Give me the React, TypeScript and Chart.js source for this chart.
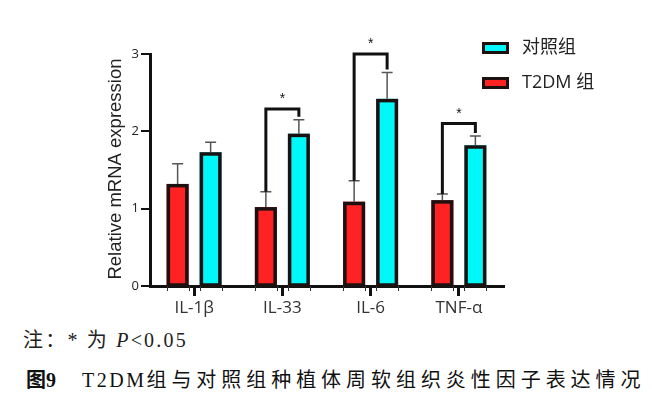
import React, { useEffect, useRef } from "react";
import { Chart, registerables } from "chart.js";

Chart.register(...registerables);

// ---- data ----
const categories = ["IL-1β", "IL-33", "IL-6", "TNF-α"];
const t2dmLabel = "T2DM 组";
const controlLabel = "对照组";
const t2dmValues = [1.32, 1.02, 1.09, 1.11];
const t2dmErrors = [0.26, 0.2, 0.27, 0.08];
const controlValues = [1.73, 1.97, 2.42, 1.82];
const controlErrors = [0.13, 0.18, 0.34, 0.12];
const bracketTops: (number | null)[] = [null, 2.29, 3.0, 2.1];
const yTicks = [0, 1, 2, 3];
const yTitle = "Relative mRNA expression";
const noteText = "注：* 为 ";
const figLabel = "图9";
const figLatin = "T2DM";
const figCjk = "组与对照组种植体周软组织炎性因子表达情况";

const RED = "#ff2222";
const CYAN = "#00f8f8";
const EDGE = "#1c1010";
const SANS = "'Open Sans', 'Noto Sans CJK SC', sans-serif";

const overlayPlugin = {
  id: "overlay",
  afterDatasetsDraw(chart: any) {
    const ctx = chart.ctx;
    const ys = chart.scales.y;
    const m0 = chart.getDatasetMeta(0).data;
    const m1 = chart.getDatasetMeta(1).data;
    const ca = chart.chartArea;
    ctx.save();

    // bar outlines (from the library's bar elements)
    ctx.strokeStyle = EDGE;
    ctx.lineWidth = 3.5;
    ctx.lineJoin = "miter";
    [...m0, ...m1].forEach((el: any) => {
      const l = el.x - el.width / 2;
      const t = el.y;
      const b = el.base;
      ctx.strokeRect(l + 1.75, t + 1.75, el.width - 3.5, b - t - 1.75);
    });

    // error bars
    const drawErr = (els: any[], vals: number[], errs: number[]) => {
      els.forEach((el: any, i: number) => {
        const y1 = ys.getPixelForValue(vals[i]);
        const y2 = ys.getPixelForValue(vals[i] + errs[i]);
        ctx.strokeStyle = "#555";
        ctx.lineWidth = 1.5;
        ctx.beginPath();
        ctx.moveTo(el.x, y1);
        ctx.lineTo(el.x, y2);
        ctx.moveTo(el.x - 5.5, y2);
        ctx.lineTo(el.x + 5.5, y2);
        ctx.stroke();
      });
    };
    drawErr(m0, t2dmValues, t2dmErrors);
    drawErr(m1, controlValues, controlErrors);

    // minor ticks at bar edges
    ctx.strokeStyle = "#333";
    ctx.lineWidth = 1;
    [...m0, ...m1].forEach((el: any) => {
      [el.x - el.width / 2, el.x + el.width / 2].forEach((x) => {
        ctx.beginPath();
        ctx.moveTo(Math.round(x) + 0.5, ca.bottom);
        ctx.lineTo(Math.round(x) + 0.5, ca.bottom + 5);
        ctx.stroke();
      });
    });

    // significance brackets
    bracketTops.forEach((top, i) => {
      if (top === null) return;
      const xl = m0[i].x;
      const xr = m1[i].x;
      const yl = ys.getPixelForValue(t2dmValues[i] + t2dmErrors[i]);
      const yr = ys.getPixelForValue(controlValues[i] + controlErrors[i]) - 3;
      const yt = ys.getPixelForValue(top);
      ctx.strokeStyle = "#111";
      ctx.lineWidth = 3;
      ctx.lineJoin = "miter";
      ctx.beginPath();
      ctx.moveTo(xl, yl);
      ctx.lineTo(xl, yt);
      ctx.lineTo(xr, yt);
      ctx.lineTo(xr, yr);
      ctx.stroke();
      ctx.fillStyle = "#111";
      ctx.font = "14px 'Liberation Sans', Arial, sans-serif";
      ctx.textAlign = "center";
      ctx.textBaseline = "alphabetic";
      ctx.fillText("*", (xl + xr) / 2, yt - 6);
    });

    // y title
    ctx.save();
    ctx.translate(113, (ca.top + ca.bottom) / 2 - 1);
    ctx.rotate(-Math.PI / 2);
    ctx.fillStyle = "#222";
    ctx.font = "18.5px 'Liberation Sans', Arial, sans-serif";
    ctx.textAlign = "center";
    ctx.textBaseline = "alphabetic";
    ctx.fillText(yTitle, 0, 0);
    ctx.restore();

    // legend
    const items = [
      { label: controlLabel, color: CYAN, y: 34 },
      { label: t2dmLabel, color: RED, y: 69 },
    ];
    items.forEach((it) => {
      ctx.fillStyle = it.color;
      ctx.fillRect(474, it.y, 27, 12);
      ctx.strokeStyle = EDGE;
      ctx.lineWidth = 3;
      ctx.strokeRect(475.5, it.y + 1.5, 24, 9);
      ctx.fillStyle = "#222";
      ctx.font = "18px " + SANS;
      ctx.textAlign = "left";
      ctx.textBaseline = "middle";
      ctx.fillText(it.label, 514, it.y + 6);
    });
    ctx.restore();
  },
};

export default function App() {
  const ref = useRef<HTMLCanvasElement | null>(null);
  useEffect(() => {
    if (!ref.current) return;
    const chart = new Chart(ref.current, {
      type: "bar",
      data: {
        labels: categories,
        datasets: [
          {
            label: t2dmLabel,
            data: t2dmValues,
            backgroundColor: RED,
            borderWidth: 0,
            categoryPercentage: 0.748,
            barPercentage: 0.667,
          },
          {
            label: controlLabel,
            data: controlValues,
            backgroundColor: CYAN,
            borderWidth: 0,
            categoryPercentage: 0.748,
            barPercentage: 0.667,
          },
        ],
      },
      options: {
        responsive: false,
        animation: false,
        layout: { padding: { top: 46, right: 141, left: 0, bottom: 0 } },
        plugins: {
          legend: { display: false },
          tooltip: { enabled: false },
          title: { display: false },
        },
        scales: {
          x: {
            type: "category",
            offset: true,
            grid: {
              display: true,
              drawOnChartArea: false,
              drawTicks: true,
              tickLength: 10,
              lineWidth: 3,
              color: "#111",
              offset: false,
            },
            border: { display: true, width: 3, color: "#111" },
            ticks: {
              font: { family: SANS, size: 17 },
              color: "#333",
              padding: 2,
              maxRotation: 0,
            },
            afterFit: (s: any) => {
              s.height = 42;
            },
          },
          y: {
            min: 0,
            max: 3,
            afterBuildTicks: (s: any) => {
              s.ticks = yTicks.map((v) => ({ value: v }));
            },
            ticks: {
              font: { family: SANS, size: 13 },
              color: "#222",
              padding: 2,
            },
            grid: {
              drawOnChartArea: false,
              tickLength: 9,
              lineWidth: 2,
              color: "#111",
            },
            border: { width: 3, color: "#111" },
            afterFit: (s: any) => {
              s.width = 142;
            },
          },
        },
      },
      plugins: [overlayPlugin],
    } as any);
    return () => chart.destroy();
  }, []);

  const serif = "'Liberation Serif', 'Times New Roman', 'Noto Sans CJK SC', serif";
  return (
    <div style={{ position: "relative", width: 636, height: 383 }}>
      <canvas
        ref={ref}
        width={636}
        height={320}
        style={{ position: "absolute", left: 0, top: 0, display: "block" }}
      />
      <div
        style={{
          position: "absolute",
          left: 15,
          top: 320,
          fontFamily: serif,
          fontSize: 20,
          lineHeight: "24px",
          color: "#222",
          whiteSpace: "nowrap",
          letterSpacing: 2.2,
        }}
      >
        {noteText}
        <i>P</i>&lt;0.05
      </div>
      <div
        style={{
          position: "absolute",
          left: 18,
          top: 360,
          fontFamily: serif,
          fontSize: 20,
          lineHeight: "24px",
          color: "#111",
          whiteSpace: "nowrap",
        }}
      >
        <b>{figLabel}</b>
        <span style={{ display: "inline-block", width: 26 }} />
        <span style={{ letterSpacing: 2.5 }}>{figLatin}</span>
        <span style={{ letterSpacing: 4.95 }}>{figCjk}</span>
      </div>
    </div>
  );
}
